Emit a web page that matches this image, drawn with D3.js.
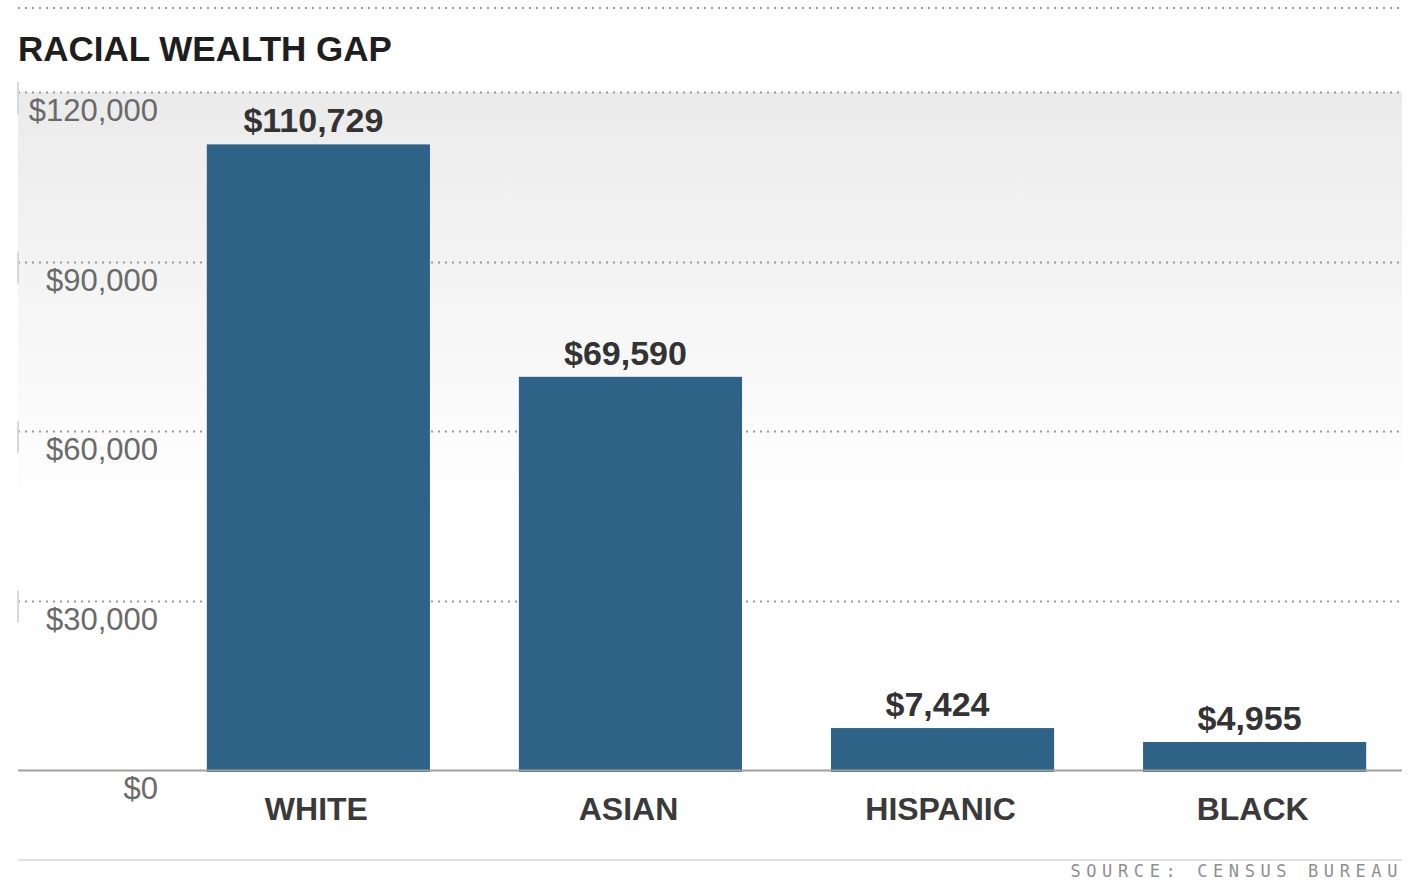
<!DOCTYPE html>
<html>
<head>
<meta charset="utf-8">
<script src="https://cdn.jsdelivr.net/npm/d3@7"></script>
<style>
  html, body { margin: 0; padding: 0; background: #fff; }
  svg { display: block; }
</style>
</head>
<body>
<svg id="chart" width="1412" height="881"></svg>
<script>
const categories = ["WHITE", "ASIAN", "HISPANIC", "BLACK"];
const values = [110729, 69590, 7424, 4955];
const valueLabels = ["$110,729", "$69,590", "$7,424", "$4,955"];
const yTicks = [0, 30000, 60000, 90000, 120000];
const yTickLabels = ["$0", "$30,000", "$60,000", "$90,000", "$120,000"];

const svg = d3.select("#chart");
const left = 18, right = 1402;
const yTop = 92, yBase = 770;
const font = "'Liberation Sans', Arial, sans-serif";

const y = d3.scaleLinear().domain([0, 120000]).range([yBase, yTop]);
const x = d3.scaleBand().domain(categories).range([160, 1413])
  .paddingInner(0.285).paddingOuter(0.15);

const defs = svg.append("defs");
const grad = defs.append("linearGradient").attr("id", "bg").attr("x1", 0).attr("y1", 0).attr("x2", 0).attr("y2", 1);
grad.append("stop").attr("offset", "0%").attr("stop-color", "#ebebeb");
grad.append("stop").attr("offset", "30%").attr("stop-color", "#f5f5f5");
grad.append("stop").attr("offset", "62%").attr("stop-color", "#ffffff");
grad.append("stop").attr("offset", "100%").attr("stop-color", "#ffffff");

// top dotted rule
svg.append("line").attr("x1", left).attr("x2", right).attr("y1", 8).attr("y2", 8)
  .attr("stroke", "#9a9a9a").attr("stroke-width", 2).attr("stroke-dasharray", "2,5");

// title
svg.append("text").attr("x", left).attr("y", 61)
  .attr("font-family", font).attr("font-weight", "bold").attr("font-size", 35)
  .attr("fill", "#1e1e1e").text("RACIAL WEALTH GAP");

// background gradient
svg.append("rect").attr("x", left).attr("y", yTop).attr("width", right - left).attr("height", yBase - yTop)
  .attr("fill", "url(#bg)");

// gridlines (dotted)
svg.append("g").selectAll("line").data(yTicks.filter(d => d > 0)).join("line")
  .attr("x1", left).attr("x2", right)
  .attr("y1", d => Math.round(y(d)) + 0.5).attr("y2", d => Math.round(y(d)) + 0.5)
  .attr("stroke", "#999").attr("stroke-width", 2).attr("stroke-dasharray", "2,5");

// small left edge marks
svg.append("g").selectAll("line").data(yTicks.filter(d => d > 0)).join("line")
  .attr("x1", left).attr("x2", left)
  .attr("y1", d => y(d) - 10).attr("y2", d => y(d) + 22)
  .attr("stroke", "#d8d8d8").attr("stroke-width", 2);

// y tick labels
svg.append("g").selectAll("text").data(yTicks).join("text")
  .attr("x", 158).attr("y", d => y(d) + 29)
  .attr("text-anchor", "end")
  .attr("font-family", font).attr("font-size", 31)
  .attr("fill", "#6a6a6a")
  .text((d, i) => yTickLabels[i]);

// bars
const data = categories.map((c, i) => ({ c, v: values[i], label: valueLabels[i] }));
svg.append("g").selectAll("rect").data(data).join("rect")
  .attr("x", d => x(d.c)).attr("width", x.bandwidth())
  .attr("y", d => y(d.v)).attr("height", d => yBase + 2 - y(d.v))
  .attr("fill", "#2f6287");

// baseline
svg.append("line").attr("x1", left).attr("x2", right).attr("y1", yBase + 0.5).attr("y2", yBase + 0.5)
  .attr("stroke", "#a0a0a0").attr("stroke-width", 2);

// value labels
svg.append("g").selectAll("text").data(data).join("text")
  .attr("x", d => x(d.c) + x.bandwidth() / 2 - 5).attr("y", d => y(d.v) - 12)
  .attr("text-anchor", "middle")
  .attr("font-family", font).attr("font-weight", "bold").attr("font-size", 34)
  .attr("fill", "#333").text(d => d.label);

// category labels
svg.append("g").selectAll("text").data(data).join("text")
  .attr("x", d => x(d.c) + x.bandwidth() / 2 - 2).attr("y", 820)
  .attr("text-anchor", "middle")
  .attr("font-family", font).attr("font-weight", "bold").attr("font-size", 32)
  .attr("fill", "#3a3a3a").text(d => d.c);

// bottom rule
svg.append("line").attr("x1", left).attr("x2", right).attr("y1", 860).attr("y2", 860)
  .attr("stroke", "#e2e2e2").attr("stroke-width", 2);

// source
svg.append("text").attr("x", 1403).attr("y", 877)
  .attr("text-anchor", "end")
  .attr("font-family", "'DejaVu Sans Mono', monospace").attr("font-size", 17)
  .attr("letter-spacing", 5.6)
  .attr("fill", "#8f8f8f").text("SOURCE: CENSUS BUREAU");
</script>
</body>
</html>
